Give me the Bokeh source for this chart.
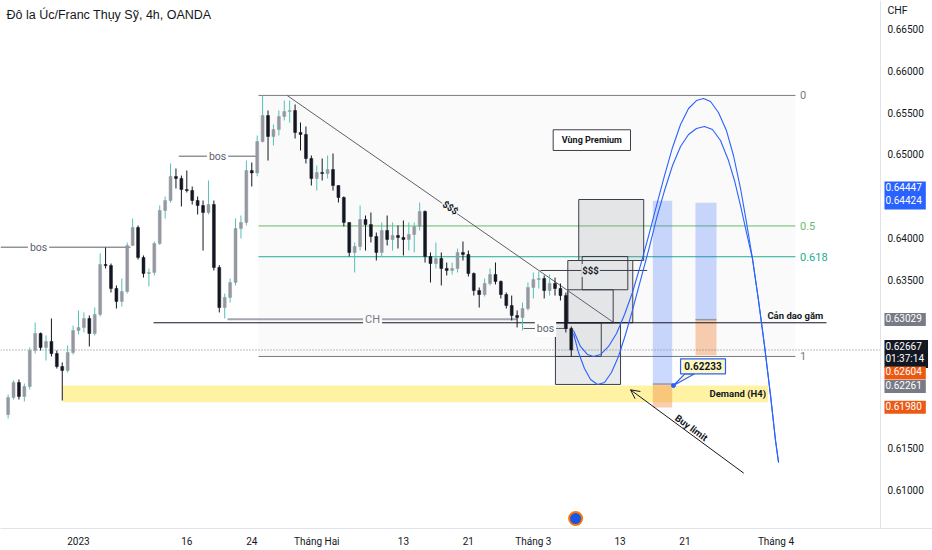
import numpy as np
from bokeh.embed import file_html
from bokeh.models import Arrow, FixedTicker, Label, LinearAxis, OpenHead, PrintfTickFormatter, Range1d
from bokeh.plotting import figure
from bokeh.resources import INLINE

# Time is counted in trading days from 2 Jan 2023 (weekends skipped, as on
# TradingView). One candle every 12 hours, the first one sits at -6.5.
first_open = 0.61897
closes = [
    0.62100, 0.62279, 0.62112, 0.62232, 0.62661, 0.62864, 0.62697, 0.62769, 0.62625, 0.62470,
    0.62423, 0.62637, 0.62900, 0.62936, 0.63043, 0.62864, 0.63091, 0.63687, 0.63675, 0.63401,
    0.63246, 0.63365, 0.63914, 0.64129, 0.63771, 0.63580, 0.63592, 0.63938, 0.64332, 0.64451,
    0.64738, 0.64714, 0.64582, 0.64570, 0.64451, 0.64391, 0.64308, 0.64403, 0.63652, 0.63174,
    0.63294, 0.63473, 0.64117, 0.64189, 0.64809, 0.64780, 0.65155, 0.65465, 0.65215, 0.65298,
    0.65454, 0.65513, 0.65525, 0.65263, 0.65239, 0.64952, 0.64714, 0.64785, 0.64773, 0.64821,
    0.64630, 0.64487, 0.64189, 0.63831, 0.63902, 0.64224, 0.64165, 0.64022, 0.63831, 0.64093,
    0.63986, 0.64033, 0.64010, 0.63986, 0.64045, 0.64141, 0.64320, 0.63783, 0.63699, 0.63759,
    0.63640, 0.63616, 0.63640, 0.63831, 0.63807, 0.63580, 0.63377, 0.63329, 0.63461, 0.63568,
    0.63485, 0.63329, 0.63198, 0.63079, 0.63055, 0.63162, 0.63413, 0.63508, 0.63520, 0.63377,
    0.63461, 0.63401, 0.63317, 0.62924, 0.62667,
]
highs = [
    0.62136, 0.62303, 0.62315, 0.62267, 0.62697, 0.62995, 0.62876, 0.62840, 0.63043, 0.62661,
    0.62518, 0.62721, 0.62959, 0.63139, 0.63115, 0.63079, 0.63174, 0.63819, 0.63890, 0.63699,
    0.63437, 0.63520, 0.63950, 0.64236, 0.64153, 0.63795, 0.63640, 0.63962, 0.64391, 0.64499,
    0.64893, 0.64833, 0.64749, 0.64809, 0.64618, 0.64499, 0.64451, 0.64690, 0.64451, 0.63680,
    0.63341, 0.63520, 0.64236, 0.64272, 0.64928, 0.64905, 0.65227, 0.65704, 0.65525, 0.65358,
    0.65525, 0.65644, 0.65644, 0.65597, 0.65382, 0.65334, 0.64988, 0.64869, 0.64952, 0.64988,
    0.65012, 0.64630, 0.64500, 0.64189, 0.63950, 0.64391, 0.64272, 0.64308, 0.64069, 0.64189,
    0.64272, 0.64189, 0.64153, 0.64212, 0.64189, 0.64189, 0.64427, 0.64332, 0.63831, 0.63950,
    0.63831, 0.63711, 0.63711, 0.63878, 0.63962, 0.63854, 0.63592, 0.63413, 0.63520, 0.63640,
    0.63711, 0.63497, 0.63353, 0.63317, 0.63139, 0.63234, 0.63473, 0.63592, 0.63604, 0.63556,
    0.63568, 0.63532, 0.63461, 0.63353, 0.62948,
]
lows = [
    0.61850, 0.62076, 0.62076, 0.62053, 0.62196, 0.62625, 0.62661, 0.62542, 0.62590, 0.62446,
    0.62065, 0.62399, 0.62613, 0.62852, 0.62876, 0.62709, 0.62840, 0.63067, 0.63640, 0.63353,
    0.63162, 0.63186, 0.63341, 0.63914, 0.63747, 0.63532, 0.63425, 0.63556, 0.63920, 0.64236,
    0.64427, 0.64594, 0.64380, 0.64547, 0.64403, 0.64284, 0.63854, 0.64284, 0.63616, 0.63115,
    0.63043, 0.63234, 0.63437, 0.63998, 0.64153, 0.64618, 0.64740, 0.65143, 0.64928, 0.65107,
    0.65227, 0.65406, 0.65382, 0.65191, 0.65048, 0.64893, 0.64630, 0.64570, 0.64690, 0.64714,
    0.64570, 0.64427, 0.64141, 0.63783, 0.63592, 0.63854, 0.63854, 0.63950, 0.63735, 0.63783,
    0.63914, 0.63854, 0.63878, 0.63795, 0.63854, 0.63831, 0.64093, 0.63711, 0.63473, 0.63640,
    0.63437, 0.63556, 0.63568, 0.63592, 0.63735, 0.63544, 0.63317, 0.63174, 0.63305, 0.63437,
    0.63449, 0.63282, 0.63162, 0.63019, 0.62936, 0.62900, 0.63139, 0.63282, 0.63401, 0.63282,
    0.63317, 0.63317, 0.63258, 0.62876, 0.62590,
]
last_price = 0.62667

date_ticks = [0, 10, 16, 22, 30, 36, 42, 50, 56, 64.4]
date_labels = ["2023", "16", "24", "Tháng Hai", "13", "21", "Tháng 3", "13", "21", "Tháng 4"]
price_ticks = [0.665, 0.660, 0.655, 0.650, 0.640, 0.635, 0.615, 0.610]

# price tags on the scale (shown stacked, as TradingView does)
tag_prices = [0.64511, 0.63031, 0.62619, 0.62393, 0.62232, 0.61985]
tag_texts = ["0.64447\n0.64424", "0.63029", "0.62667\n01:37:14", "0.62604", "0.62261", "0.61980"]
tag_colors = ["#2962ff", "#787b86", "#131722", "#eb5a14", "#787b86", "#eb5a14"]

# fibonacci retracement
fib_start, fib_end = 16.62, 66.2
fib_top, fib_bottom = 0.65705, 0.62590
fib_levels = [0, 0.5, 0.618, 1]
fib_names = ["0", "0.5", "0.618", "1"]
fib_colors = ["#787b86", "#66bb6a", "#22ab94", "#787b86"]

# structure lines
bos_start = [-7.2, 9.26, 41.09]
bos_end = [4.80, 16.62, 45.15]
bos_price = [0.63894, 0.64980, 0.62924]
bos_text_at = [-3.69, 12.84, 43.12]
ch_start, ch_end, ch_price, ch_text_at = 13.76, 40.5, 0.63035, 27.15
dagger_start, dagger_end, dagger_price = 6.93, 69.07, 0.62992
trend_t = [19.27, 49.37]
trend_p = [0.65704, 0.62999]
liq_start, liq_end, liq_price, liq_text_at = 42.66, 52.51, 0.63616, 47.28

# demand zone
demand_start, demand_end = -1.48, 63.68
demand_low, demand_high = 0.62044, 0.62243

# order blocks / boxes
box_left = [46.19, 45.18, 44.04, 46.51, 44.04, 45.18]
box_right = [52.19, 51.18, 50.05, 50.72, 48.27, 49.37]
box_bottom = [0.63735, 0.62992, 0.62256, 0.63386, 0.62590, 0.62992]
box_top = [0.64463, 0.63735, 0.62992, 0.63783, 0.62992, 0.63386]
box_filled = [True, True, True, False, False, False]

premium_left, premium_right = 43.83, 50.97
premium_bottom, premium_top = 0.65048, 0.65295

# long positions
pos_left = [53.03, 56.97]
pos_right = [54.82, 58.91]
pos_target = [0.64447, 0.64424]
pos_entry = [0.62261, 0.63029]
pos_stop = [0.61980, 0.62604]

callout_left, callout_right = 55.59, 59.74
callout_bottom, callout_top = 0.62383, 0.62562
callout_tip = (54.94, 0.62243)
callout_text = "0.62233"

# projected paths
path1_t = [45.71, 46.35, 47.00, 47.55, 48.20, 48.94, 49.68, 50.42, 51.15, 51.89, 52.63, 53.37,
           54.11, 54.85, 55.59, 56.33, 57.06, 57.71, 58.36, 59.09, 59.83, 60.48, 61.13, 61.68,
           62.23, 62.79, 63.34, 63.90, 64.36, 64.64]
path1_p = [0.62900, 0.62709, 0.62613, 0.62590, 0.62613, 0.62709, 0.62864, 0.63091, 0.63353,
           0.63676, 0.64022, 0.64391, 0.64749, 0.65084, 0.65358, 0.65549, 0.65644, 0.65668,
           0.65632, 0.65501, 0.65286, 0.64988, 0.64594, 0.64189, 0.63759, 0.63258, 0.62721,
           0.62124, 0.61587, 0.61325]
path2_t = [45.71, 46.17, 46.72, 47.28, 47.92, 48.57, 49.21, 49.86, 50.51, 51.15, 51.89, 52.63,
           53.37, 54.11, 54.85, 55.59, 56.33, 57.06, 57.80, 58.54, 59.28, 60.02, 60.57, 61.13,
           61.68, 62.23, 62.79, 63.34, 63.90, 64.36, 64.64]
path2_p = [0.62864, 0.62637, 0.62446, 0.62315, 0.62255, 0.62279, 0.62399, 0.62590, 0.62852,
           0.63139, 0.63497, 0.63854, 0.64236, 0.64570, 0.64869, 0.65096, 0.65239, 0.65310,
           0.65334, 0.65298, 0.65167, 0.64928, 0.64690, 0.64391, 0.64069, 0.63759, 0.63258,
           0.62721, 0.62124, 0.61587, 0.61325]

buy_arrow_from = (61.43, 0.61197)
buy_arrow_to = (50.97, 0.62192)

TEXT = "#131722"
FONT = "Roboto"

# the price scale lives inside the frame, to the right of scale_at
x_lo, x_hi = -7.202, 78.855
scale_at = 74.05
p = figure(
    width=932,
    height=550,
    x_range=Range1d(x_lo, x_hi),
    y_range=Range1d(0.60537, 0.668377),
    y_axis_location=None,
    output_backend="svg",
    toolbar_location=None,
    tools="",
    min_border_left=0,
    min_border_right=0,
    min_border_top=0,
    min_border_bottom=22,
)
p.outline_line_color = None
p.grid.visible = False
p.background_fill_color = "white"

price_axis = LinearAxis(fixed_location=scale_at, ticker=FixedTicker(ticks=price_ticks),
                        formatter=PrintfTickFormatter(format="%.5f"))
p.add_layout(price_axis, "right")

p.xaxis.ticker = FixedTicker(ticks=date_ticks)
p.xaxis.major_label_overrides = dict(zip(date_ticks, date_labels))
for ax in (p.xaxis[0], price_axis):
    ax.axis_line_color = "#e0e3eb"
    ax.major_tick_out = 0
    ax.major_tick_in = 0
    ax.minor_tick_out = 0
    ax.minor_tick_in = 0
    ax.major_label_text_font = FONT
    ax.major_label_text_font_size = "10px"
    ax.major_label_text_color = TEXT
p.xaxis.major_label_standoff = 7
price_axis.major_label_standoff = 7


def label(x, y, text, **kw):
    opts = dict(text_font=FONT, text_font_size="10px", text_color=TEXT,
                text_align="center", text_baseline="middle")
    opts.update(kw)
    p.add_layout(Label(x=x, y=y, text=text, **opts))


# fibonacci retracement
fib_prices = [fib_top - lv * (fib_top - fib_bottom) for lv in fib_levels]
p.quad(left=fib_start, right=fib_end, bottom=fib_bottom, top=fib_top,
       fill_color="#787b86", fill_alpha=0.04, line_color=None)
for fp, name, col in zip(fib_prices, fib_names, fib_colors):
    p.segment(fib_start, fp, fib_end, fp, line_color=col, line_width=1)
    label(fib_end + 0.42, fp, name, text_align="left", text_color=col, text_font_size="11px")

# demand zone
p.quad(left=demand_start, right=demand_end, bottom=demand_low, top=demand_high,
       fill_color="#fff3a3", line_color=None)
label(demand_end - 0.2, (demand_low + demand_high) / 2, "Demand (H4)",
      text_align="right", text_font_style="bold", text_font_size="9.5px")

# long positions
p.quad(left=pos_left, right=pos_right, bottom=pos_entry, top=pos_target,
       fill_color="#2962ff", fill_alpha=0.24, line_color=None)
p.quad(left=pos_left, right=pos_right, bottom=pos_stop, top=pos_entry,
       fill_color="#f0843c", fill_alpha=0.4, line_color=None)
p.segment(pos_left, pos_entry, pos_right, pos_entry, line_color="#9598a1", line_width=1.5)

# boxes
for l, r, b, t, filled in zip(box_left, box_right, box_bottom, box_top, box_filled):
    p.quad(left=l, right=r, bottom=b, top=t,
           fill_color="#787b86", fill_alpha=0.16 if filled else 0.0,
           line_color="#3c3f4a", line_width=1)
p.quad(left=premium_left, right=premium_right, bottom=premium_bottom, top=premium_top,
       fill_color="white", line_color="#3c3f4a", line_width=1)
label((premium_left + premium_right) / 2, (premium_bottom + premium_top) / 2, "Vùng Premium",
      text_font_style="bold", text_font_size="9px")

# structure lines
p.segment(bos_start, bos_price, bos_end, bos_price, line_color="#5d606b", line_width=1)
for xt, yp in zip(bos_text_at, bos_price):
    label(xt, yp, "bos", background_fill_color="white", text_color="#5d606b",
          text_font_size="10.5px", padding=2)
p.segment(ch_start, ch_price, ch_end, ch_price, line_color="#a3a6af", line_width=2)
label(ch_text_at, ch_price, "CH", background_fill_color="#fafafa", text_color="#787b86",
      text_font_size="11px", padding=2)
p.segment(dagger_start, dagger_price, dagger_end, dagger_price, line_color=TEXT, line_width=1)
label(dagger_end - 0.3, dagger_price, "Cản dao găm", text_align="right",
      text_baseline="bottom", y_offset=2, text_font_style="bold", text_font_size="9.5px")
p.line(trend_t, trend_p, line_color="#5d606b", line_width=1)
label(34.35, 0.64368, "$$$", angle=-0.607, background_fill_color="#fafafa",
      text_font_style="bold", text_font_size="9.5px", padding=1)
p.segment(liq_start, liq_price, liq_end, liq_price, line_color="#3c3f4a", line_width=1)
label(liq_text_at, liq_price, "$$$", background_fill_color="#e4e5e8",
      text_font_style="bold", text_font_size="9.5px", padding=1)

# last price line, up to the scale
p.segment(x_lo, last_price, scale_at, last_price, line_color="#787b86",
          line_dash="1 2", line_width=1)

# candles
t = -6.5 + 0.5 * np.arange(len(closes))
c = np.array(closes)
o = np.array([first_open] + closes[:-1])
h = np.array(highs)
lw = np.array(lows)
up = c >= o
dn = ~up
p.segment(t[up], h[up], t[up], lw[up], line_color="#4fc3b5", line_width=1)
p.segment(t[dn], h[dn], t[dn], lw[dn], line_color="#131722", line_width=1)
p.vbar(t[up], 0.27, c[up], o[up], fill_color="#9598a1", line_color="#9598a1", line_width=0.5)
p.vbar(t[dn], 0.27, o[dn], c[dn], fill_color="#131722", line_color="#131722", line_width=0.5)

# projected paths
p.line(path1_t, path1_p, line_color="#2962ff", line_width=1.1)
p.line(path2_t, path2_p, line_color="#2962ff", line_width=1.1)

# callout
p.patch([callout_left + 0.4, callout_left + 1.3, callout_tip[0]],
        [callout_bottom, callout_bottom, callout_tip[1]],
        fill_color="#fff8c2", line_color="#2962ff", line_width=1.2)
p.quad(left=callout_left, right=callout_right, bottom=callout_bottom, top=callout_top,
       fill_color="#fff8c2", line_color="#2962ff", line_width=1.2)
p.scatter([callout_tip[0]], [callout_tip[1]], size=4, color="#2962ff")
label((callout_left + callout_right) / 2, (callout_bottom + callout_top) / 2, callout_text,
      text_font_style="bold", text_font_size="10px")

# buy limit arrow
p.add_layout(Arrow(end=OpenHead(size=9, line_color=TEXT, line_width=1),
                   x_start=buy_arrow_from[0], y_start=buy_arrow_from[1],
                   x_end=buy_arrow_to[0], y_end=buy_arrow_to[1],
                   line_color=TEXT, line_width=1))
label(56.6, 0.61740, "Buy limit", angle=-0.635, text_font_style="bold", text_font_size="9.5px")

# logo
p.scatter([45.9], [0.60656], size=13, fill_color="#1e53e5", line_color="#f57c00", line_width=2)

# title and scale labels
label(-6.65, 0.666706, "Đô la Úc/Franc Thụy Sỹ, 4h, OANDA", text_align="left",
      text_font="Liberation Sans", text_font_size="12.5px")
label(scale_at, 0.66718, "CHF", text_align="left", x_offset=7, text_font_size="10.5px")
for yp, txt, col in zip(tag_prices, tag_texts, tag_colors):
    label(scale_at, yp, txt, text_align="left", x_offset=4, text_color="white",
          text_font_size="10px", text_line_height=1.1, background_fill_color=col,
          padding=(1, 4, 1, 4))

open("out.html", "w").write(file_html(p, INLINE))
